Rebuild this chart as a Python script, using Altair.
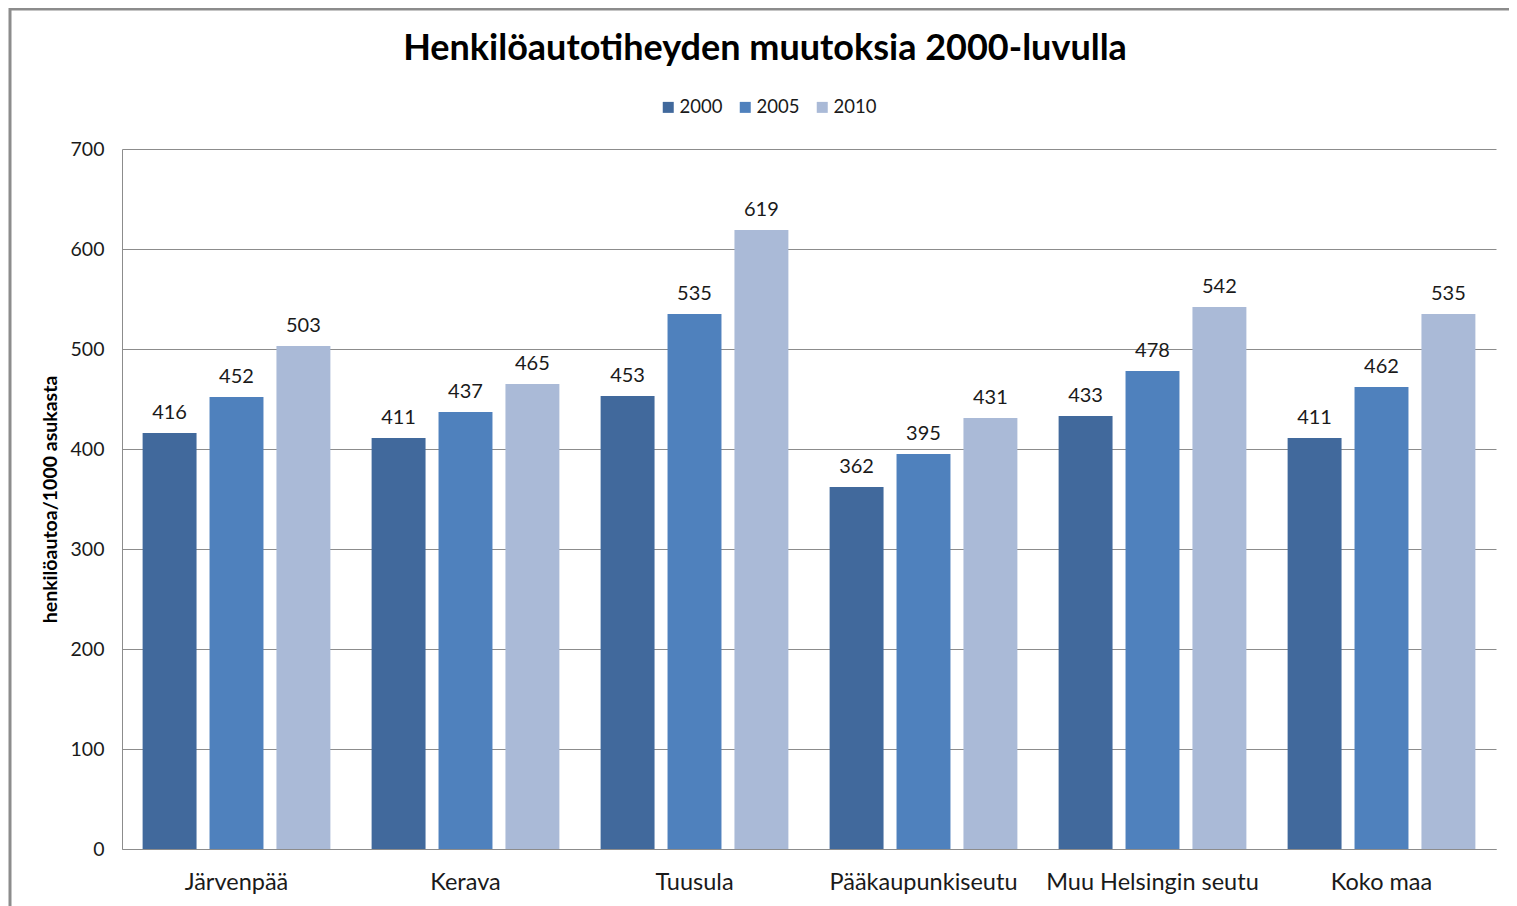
import altair as alt
import pandas as pd

categories = ["Järvenpää", "Kerava", "Tuusula", "Pääkaupunkiseutu", "Muu Helsingin seutu", "Koko maa"]
years = ["2000", "2005", "2010"]
v2000 = [416, 411, 453, 362, 433, 411]
v2005 = [452, 437, 535, 395, 478, 462]
v2010 = [503, 465, 619, 431, 542, 535]
colors = ["#41699C", "#4F81BD", "#AABAD7"]

rows = []
for i, c in enumerate(categories):
    for y, vals in zip(years, [v2000, v2005, v2010]):
        rows.append({"alue": c, "vuosi": y, "arvo": vals[i]})
df = pd.DataFrame(rows)

FONT = "Lato"

x_enc = alt.X("alue:N", sort=categories, title=None,
              scale=alt.Scale(paddingInner=0.18, paddingOuter=0.09),
              axis=alt.Axis(labelAngle=0, labelFontSize=23.5, labelPadding=21, ticks=False,
                            labelLimit=0, domainColor="#8C8C8C", labelColor="#1a1a1a",
                            labelFont=FONT))
xo_enc = alt.XOffset("vuosi:N", sort=years, scale=alt.Scale(paddingInner=0.194, paddingOuter=0))
y_enc = alt.Y("arvo:Q", title="henkilöautoa/1000 asukasta",
              scale=alt.Scale(domain=[0, 700], nice=False),
              axis=alt.Axis(values=list(range(0, 701, 100)), labelFontSize=19.5, labelPadding=18,
                            ticks=False, domainColor="#8C8C8C", gridColor="#8C8C8C",
                            labelColor="#1a1a1a", labelFont=FONT, titleFont=FONT,
                            titleFontSize=19.5, titleFontWeight="bold", titleColor="#000000",
                            titleX=-62, titleY=350, titleBaseline="bottom"))

bars = alt.Chart(df).mark_bar().encode(
    x=x_enc, xOffset=xo_enc, y=y_enc,
    color=alt.Color("vuosi:N", sort=years, scale=alt.Scale(domain=years, range=colors),
                    legend=alt.Legend(title=None, orient="none", direction="horizontal",
                                      legendX=537, legendY=-51, symbolType="square",
                                      symbolSize=121, symbolStrokeWidth=0, labelFontSize=18.5,
                                      labelFont=FONT, labelColor="#1a1a1a", columnPadding=13,
                                      labelOffset=2)),
)

labels = alt.Chart(df).mark_text(baseline="alphabetic", dy=-14, fontSize=20, font=FONT,
                                 color="#1a1a1a").encode(
    x=alt.X("alue:N", sort=categories), xOffset=alt.XOffset("vuosi:N", sort=years),
    y="arvo:Q", text="arvo:Q")

frame = alt.Chart(pd.DataFrame({"a": [0]})).mark_rect(
    fill=None, stroke="#8C8C8C", strokeWidth=3).encode(
    x=alt.value(-112), x2=alt.value(1500), y=alt.value(-140), y2=alt.value(900))

chart = alt.layer(frame, bars, labels).properties(
    width=1374, height=700,
    autosize=alt.AutoSizeParams(type="none"),
    padding={"left": 114, "top": 141, "right": 13, "bottom": 57},
    title=alt.TitleParams("Henkilöautotiheyden muutoksia 2000-luvulla", fontSize=36,
                          font=FONT, fontWeight="bold", color="#000000", anchor="middle",
                          dx=-44, offset=-60),
).configure_view(stroke=None).configure_axis(grid=True).configure_axisX(grid=False)

chart.save("out.html", embed_options={"renderer": "svg", "actions": False})
